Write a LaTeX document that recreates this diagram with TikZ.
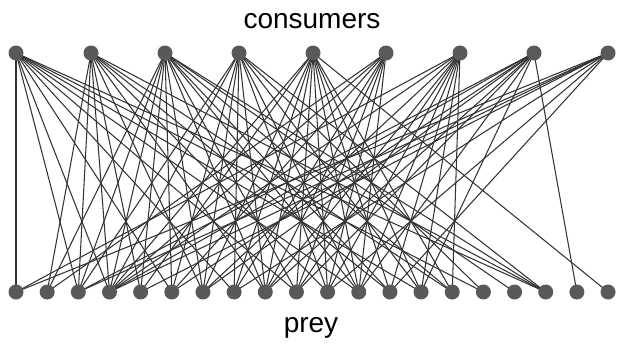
\documentclass[tikz,border=0pt]{standalone}
\usepackage{fontspec}
\setmainfont{Liberation Sans}
\definecolor{dotgray}{HTML}{595959}
\definecolor{linegray}{HTML}{333333}
\pgfdeclarelayer{edges}
\pgfsetlayers{edges,main}
\begin{document}
\begin{tikzpicture}[x=1pt,y=-1pt,
  dot/.style={circle,fill=dotgray,minimum size=15pt,inner sep=0pt},
  link/.style={draw=linegray,line width=1.05pt},
  lbl/.style={font=\fontsize{28}{30}\selectfont,inner sep=0pt,anchor=base}]
\useasboundingbox (0,0) rectangle (617,343);
\foreach \i/\x in {0/16,1/91,2/165,3/239,4/313,5/386,6/460,7/534,8/608}
  \node[dot] (c\i) at (\x,53) {};
\foreach \i in {0,...,19}
  \node[dot] (p\i) at ({16+31.16*\i},292) {};
\node[lbl] (top) at (312,28) {consumers};
\node[lbl] (bot) at (311,332) {prey};
\begin{pgfonlayer}{edges}
\fill[white] (0,0) rectangle (617,343);
\foreach \c/\l in {
  0/{0,2,3,5,7,9,11,13,15,17},
  1/{1,2,3,4,6,8,10,12,14,17},
  2/{1,2,3,4,5,6,8,9,11,12,14,16,17},
  3/{2,3,5,6,7,8,10,11,13,15,17},
  4/{3,4,6,7,8,9,10,11,12,13,14,19},
  5/{1,3,5,7,8,9,10,11},
  6/{0,3,6,8,9,10,11,12,13,14},
  7/{2,3,5,6,8,9,11,13,18},
  8/{0,2,3,4,7,10,12}}
  {\foreach \p in \l {\draw[link] (c\c.center) -- (p\p.center);}}
\end{pgfonlayer}
\end{tikzpicture}
\end{document}
